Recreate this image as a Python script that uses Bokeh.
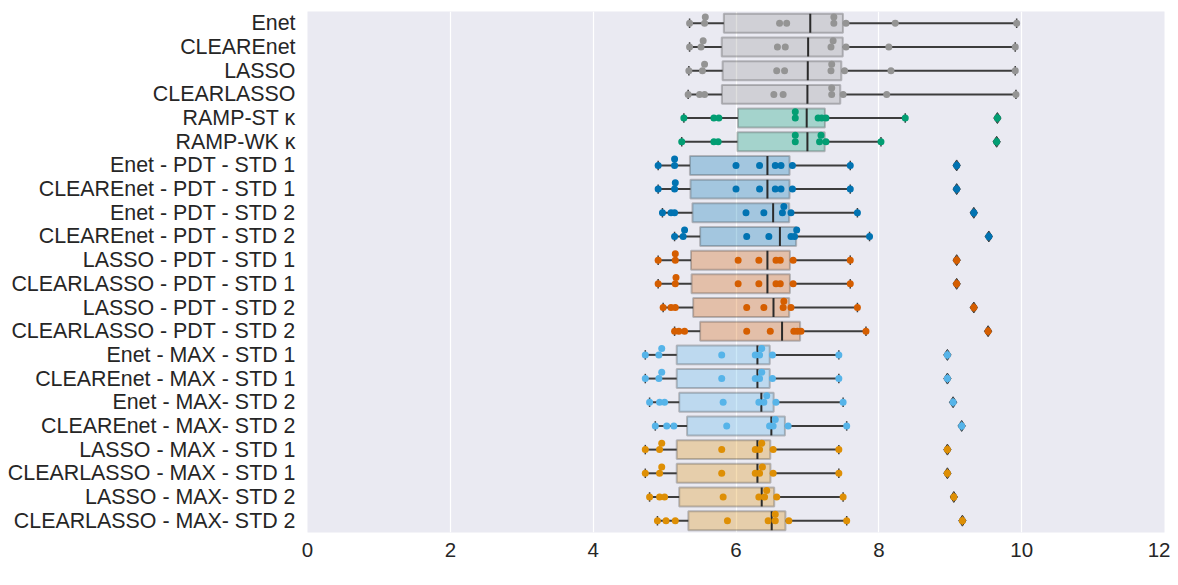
import numpy as np
from bokeh.plotting import figure
from bokeh.models import Range1d, FixedTicker, Label, ColumnDataSource
from bokeh.embed import file_html
from bokeh.resources import INLINE

categories = [
    "Enet", "CLEAREnet", "LASSO", "CLEARLASSO", "RAMP-ST κ", "RAMP-WK κ",
    "Enet - PDT - STD 1", "CLEAREnet - PDT - STD 1", "Enet - PDT - STD 2", "CLEAREnet - PDT - STD 2",
    "LASSO - PDT - STD 1", "CLEARLASSO - PDT - STD 1", "LASSO - PDT - STD 2", "CLEARLASSO - PDT - STD 2",
    "Enet - MAX - STD 1", "CLEAREnet - MAX - STD 1", "Enet - MAX- STD 2", "CLEAREnet - MAX- STD 2",
    "LASSO - MAX - STD 1", "CLEARLASSO - MAX - STD 1", "LASSO - MAX- STD 2", "CLEARLASSO - MAX- STD 2",
]

enet = [5.35, 5.56, 5.57, 6.61, 6.71, 7.37, 7.37, 7.54, 8.23, 9.93]
clear_enet = [5.35, 5.51, 5.54, 6.58, 6.69, 7.33, 7.36, 7.54, 8.14, 9.91]
lasso = [5.34, 5.53, 5.56, 6.57, 6.68, 7.33, 7.34, 7.52, 8.17, 9.91]
clear_lasso = [5.33, 5.49, 5.56, 6.53, 6.66, 7.34, 7.34, 7.50, 8.11, 9.92]
ramp_st = [5.27, 5.69, 5.76, 6.83, 6.83, 7.15, 7.20, 7.26, 8.37, 9.66]
ramp_wk = [5.24, 5.69, 5.75, 6.83, 6.83, 7.17, 7.19, 7.26, 8.03, 9.65]
enet_pdt_1 = [4.91, 5.14, 5.14, 6.00, 6.33, 6.55, 6.63, 6.79, 7.60, 9.09]
clear_enet_pdt_1 = [4.91, 5.14, 5.15, 6.00, 6.33, 6.55, 6.63, 6.79, 7.60, 9.09]
enet_pdt_2 = [4.97, 5.09, 5.14, 6.14, 6.39, 6.65, 6.67, 6.77, 7.70, 9.33]
clear_enet_pdt_2 = [5.14, 5.26, 5.28, 6.15, 6.46, 6.77, 6.82, 6.85, 7.87, 9.54]
lasso_pdt_1 = [4.91, 5.15, 5.15, 6.03, 6.32, 6.56, 6.62, 6.80, 7.60, 9.09]
clear_lasso_pdt_1 = [4.91, 5.15, 5.16, 6.03, 6.32, 6.56, 6.62, 6.80, 7.60, 9.09]
lasso_pdt_2 = [4.98, 5.09, 5.15, 6.15, 6.39, 6.66, 6.67, 6.77, 7.70, 9.33]
clear_lasso_pdt_2 = [5.14, 5.20, 5.28, 6.15, 6.48, 6.81, 6.86, 6.91, 7.82, 9.53]
enet_max_1 = [4.73, 4.92, 4.96, 5.80, 6.27, 6.33, 6.36, 6.51, 7.44, 8.96]
clear_enet_max_1 = [4.73, 4.92, 4.96, 5.80, 6.27, 6.33, 6.36, 6.51, 7.44, 8.96]
enet_max_2 = [4.79, 4.93, 5.00, 5.82, 6.32, 6.39, 6.43, 6.56, 7.50, 9.04]
clear_enet_max_2 = [4.87, 5.03, 5.13, 5.87, 6.47, 6.52, 6.55, 6.73, 7.55, 9.16]
lasso_max_1 = [4.73, 4.93, 4.96, 5.80, 6.27, 6.33, 6.36, 6.52, 7.44, 8.96]
clear_lasso_max_1 = [4.73, 4.93, 4.96, 5.80, 6.27, 6.33, 6.37, 6.52, 7.44, 8.96]
lasso_max_2 = [4.79, 4.93, 5.00, 5.82, 6.32, 6.40, 6.43, 6.57, 7.50, 9.05]
clear_lasso_max_2 = [4.90, 5.02, 5.15, 5.88, 6.45, 6.55, 6.55, 6.74, 7.55, 9.17]

series = [enet, clear_enet, lasso, clear_lasso, ramp_st, ramp_wk,
          enet_pdt_1, clear_enet_pdt_1, enet_pdt_2, clear_enet_pdt_2,
          lasso_pdt_1, clear_lasso_pdt_1, lasso_pdt_2, clear_lasso_pdt_2,
          enet_max_1, clear_enet_max_1, enet_max_2, clear_enet_max_2,
          lasso_max_1, clear_lasso_max_1, lasso_max_2, clear_lasso_max_2]

GREY, GREEN, BLUE, VERM, SKY, ORANGE = "#949494", "#029e73", "#0173b2", "#d55e00", "#56b4e9", "#de8f05"
colors = [GREY] * 4 + [GREEN] * 2 + [BLUE] * 4 + [VERM] * 4 + [SKY] * 4 + [ORANGE] * 4

FONT = "Liberation Sans"
TEXT = "#262626"
LINE = "#3d3d3d"
n = len(categories)

p = figure(frame_width=857, frame_height=521,
           x_range=Range1d(0, 12), y_range=Range1d(-0.5, n - 0.5),
           output_backend="svg", toolbar_location=None,
           min_border_left=307, min_border_right=6, min_border_top=11, min_border_bottom=53,
           background_fill_color="#eaeaf2", border_fill_color="white")
p.outline_line_color = None

p.xgrid.grid_line_color = "white"
p.xgrid.grid_line_width = 1.2
p.ygrid.grid_line_color = None

p.xaxis.ticker = FixedTicker(ticks=[0, 2, 4, 6, 8, 10, 12])
p.yaxis.ticker = FixedTicker(ticks=list(range(n)))
p.yaxis.major_label_overrides = {n - 1 - i: c for i, c in enumerate(categories)}
for ax in (p.xaxis[0], p.yaxis[0]):
    ax.axis_line_color = None
    ax.major_tick_line_color = None
    ax.minor_tick_line_color = None
    ax.major_tick_out = 0
    ax.major_tick_in = 0
    ax.major_label_text_font = FONT
    ax.major_label_text_color = TEXT
p.xaxis.major_label_text_font_size = "20.5px"
p.yaxis.major_label_text_font_size = "21.4px"
p.xaxis.major_label_standoff = 10
p.yaxis.major_label_standoff = 12


def dodge(vals, tol=0.042, step=0.27):
    levels, offs = [], []
    for v in vals:
        lvl = 0
        while True:
            if lvl >= len(levels):
                levels.append([])
            if all(abs(v - u) >= tol for u in levels[lvl]):
                break
            lvl += 1
        levels[lvl].append(v)
        offs.append(lvl * step)
    return offs


box = dict(y=[], left=[], right=[], color=[])
whisk = dict(x0=[], x1=[], y=[])
med = dict(x=[], y0=[], y1=[])
caps = dict(x=[], y0=[], y1=[])
flier = dict(x=[], y=[], color=[])
pts = dict(x=[], y=[], color=[])

for i, (vals, col) in enumerate(zip(series, colors)):
    y = n - 1 - i
    arr = np.array(sorted(vals))
    q1, q2, q3 = np.percentile(arr, [25, 50, 75])
    iqr = q3 - q1
    inside = arr[(arr >= q1 - 1.5 * iqr) & (arr <= q3 + 1.5 * iqr)]
    lo, hi = inside.min(), inside.max()
    fliers = [v for v in arr if v < lo or v > hi]
    box["y"].append(y); box["left"].append(q1); box["right"].append(q3); box["color"].append(col)
    whisk["x0"] += [lo, q3]; whisk["x1"] += [q1, hi]; whisk["y"] += [y, y]
    med["x"].append(q2); med["y0"].append(y - 0.4); med["y1"].append(y + 0.4)
    for v in [lo, hi]:
        caps["x"].append(v); caps["y0"].append(y - 0.2); caps["y1"].append(y + 0.2)
    for v in fliers:
        flier["x"].append(v); flier["y"].append(y); flier["color"].append(col)
    offs = dodge(list(arr))
    for v, o in zip(arr, offs):
        pts["x"].append(v); pts["y"].append(y + o); pts["color"].append(col)

p.hbar(y="y", left="left", right="right", height=0.8, source=ColumnDataSource(box),
       fill_color="color", fill_alpha=0.3, line_color=LINE, line_alpha=0.3, line_width=2)
p.segment(x0="x0", x1="x1", y0="y", y1="y", source=ColumnDataSource(whisk),
          line_color=LINE, line_width=2)
p.segment(x0="x", x1="x", y0="y0", y1="y1", source=ColumnDataSource(med),
          line_color="#2a2a2a", line_width=2)
p.segment(x0="x", x1="x", y0="y0", y1="y1", source=ColumnDataSource(caps),
          line_color=LINE, line_width=1.5)
p.scatter(x="x", y="y", source=ColumnDataSource(flier), marker="diamond", size=11,
          fill_color="color", line_color=LINE, line_width=1)
p.scatter(x="x", y="y", source=ColumnDataSource(pts), marker="circle", size=7,
          fill_color="color", line_color=None)

p.add_layout(Label(x=6, y=-29, x_units="data", y_units="screen", text="Mean Squared Error (MSE)",
                   text_align="center", text_baseline="top", text_font=FONT,
                   text_font_size="20.5px", text_color=TEXT))

open("out.html", "w").write(file_html(p, INLINE))
